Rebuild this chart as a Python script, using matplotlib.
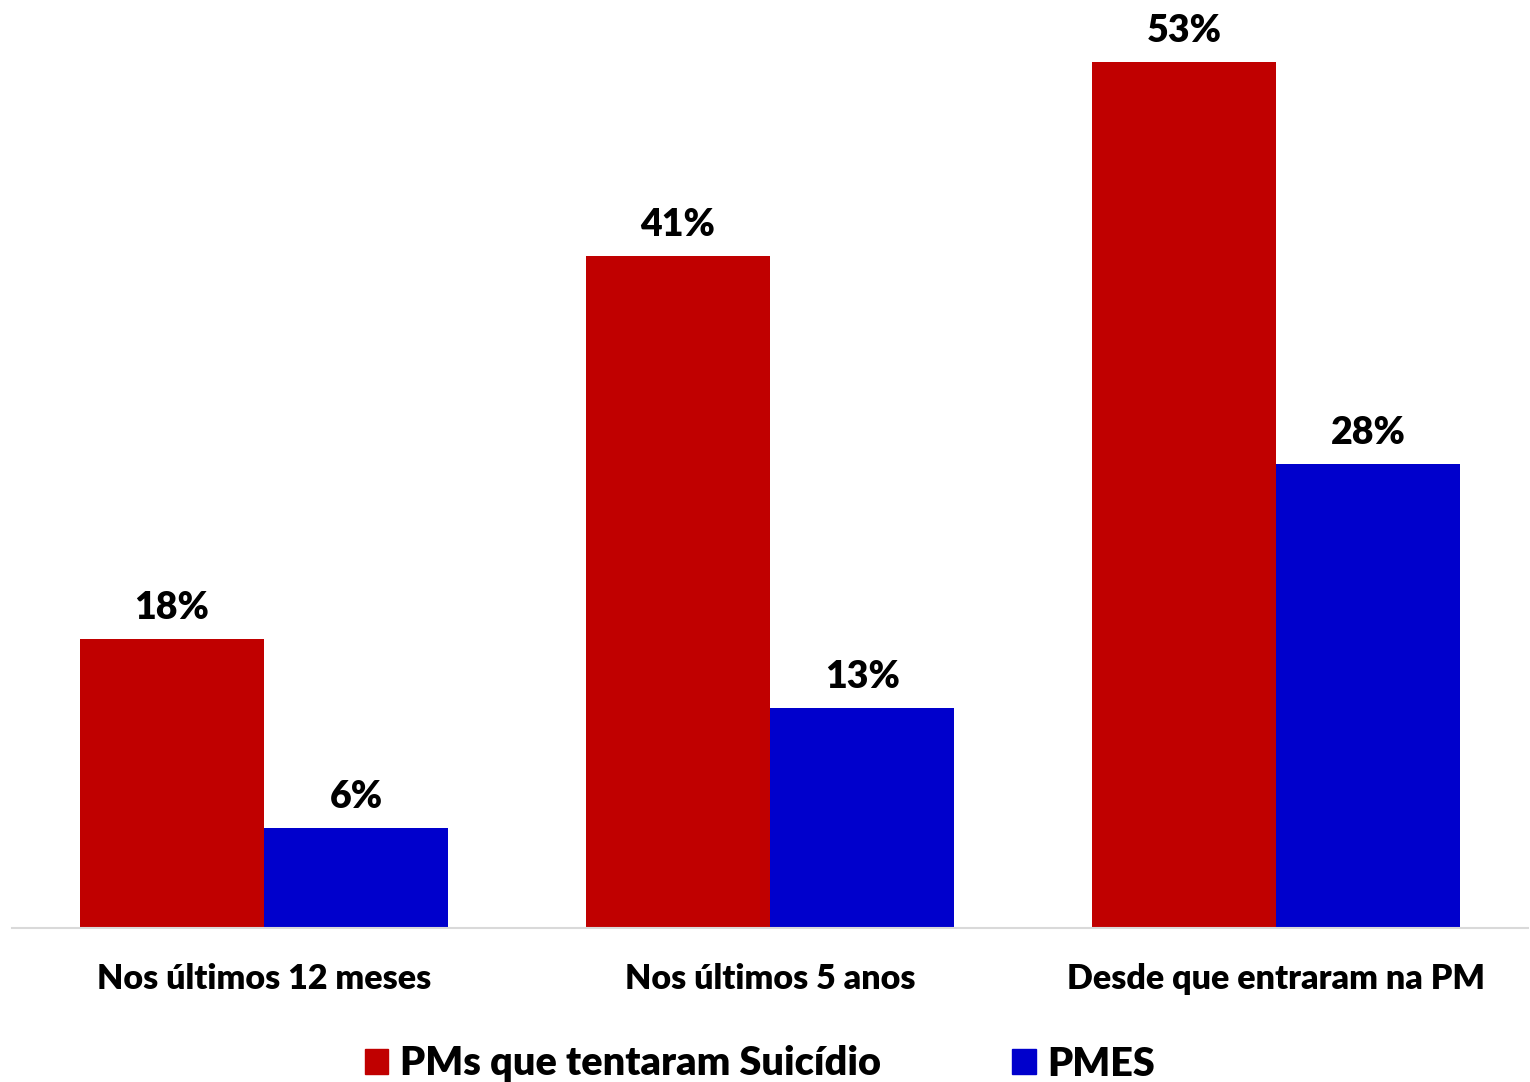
import numpy as np
import matplotlib.pyplot as plt
from matplotlib.patches import Patch

categories = ["Nos últimos 12 meses", "Nos últimos 5 anos", "Desde que entraram na PM"]
series_names = ["PMs que tentaram Suicídio", "PMES"]
tentaram = [17.6, 41.0, 52.8]
pmes = [6.1, 13.4, 28.3]

plt.rcParams['font.family'] = ['Lato', 'DejaVu Sans']
plt.rcParams['font.weight'] = 'bold'

fig = plt.figure(figsize=(15.3, 10.82), dpi=100)
ax = fig.add_axes([12 / 1530, 154 / 1082, 1516 / 1530, 928 / 1082])

x = np.arange(len(categories))
w = 0.364
colors = ["#c00000", "#0000cc"]
b1 = ax.bar(x - w / 2, tentaram, w, color=colors[0])
b2 = ax.bar(x + w / 2, pmes, w, color=colors[1])

# rótulos de valor acima das barras
for bars in (b1, b2):
    for b in bars:
        ax.annotate("%.0f%%" % b.get_height(), (b.get_x() + b.get_width() / 2, b.get_height()),
                    xytext=(0, 10), textcoords="offset points", ha="center", va="bottom",
                    fontsize=27, fontweight="heavy")

ax.set_xlim(-0.498, 2.498)
ax.set_ylim(0, 928 / 16.4)
ax.set_yticks([])
ax.set_xticks(x)
ax.set_xticklabels(categories, fontsize=24.5, fontweight="heavy")
ax.tick_params(axis="x", length=0, pad=25.5)
for s in ("top", "left", "right"):
    ax.spines[s].set_visible(False)
ax.spines["bottom"].set_color("#d9d9d9")
ax.spines["bottom"].set_linewidth(1.5)

handles = [Patch(color=c) for c in colors]
fig.legend(handles, series_names, loc="center", bbox_to_anchor=(760 / 1530, 1 - 1064 / 1082),
           ncol=2, frameon=False, prop={"size": 28.5, "weight": "heavy"},
           handlelength=0.6, handleheight=0.6, handletextpad=0.3, columnspacing=3.3)

fig.savefig("out.png", dpi=100)
